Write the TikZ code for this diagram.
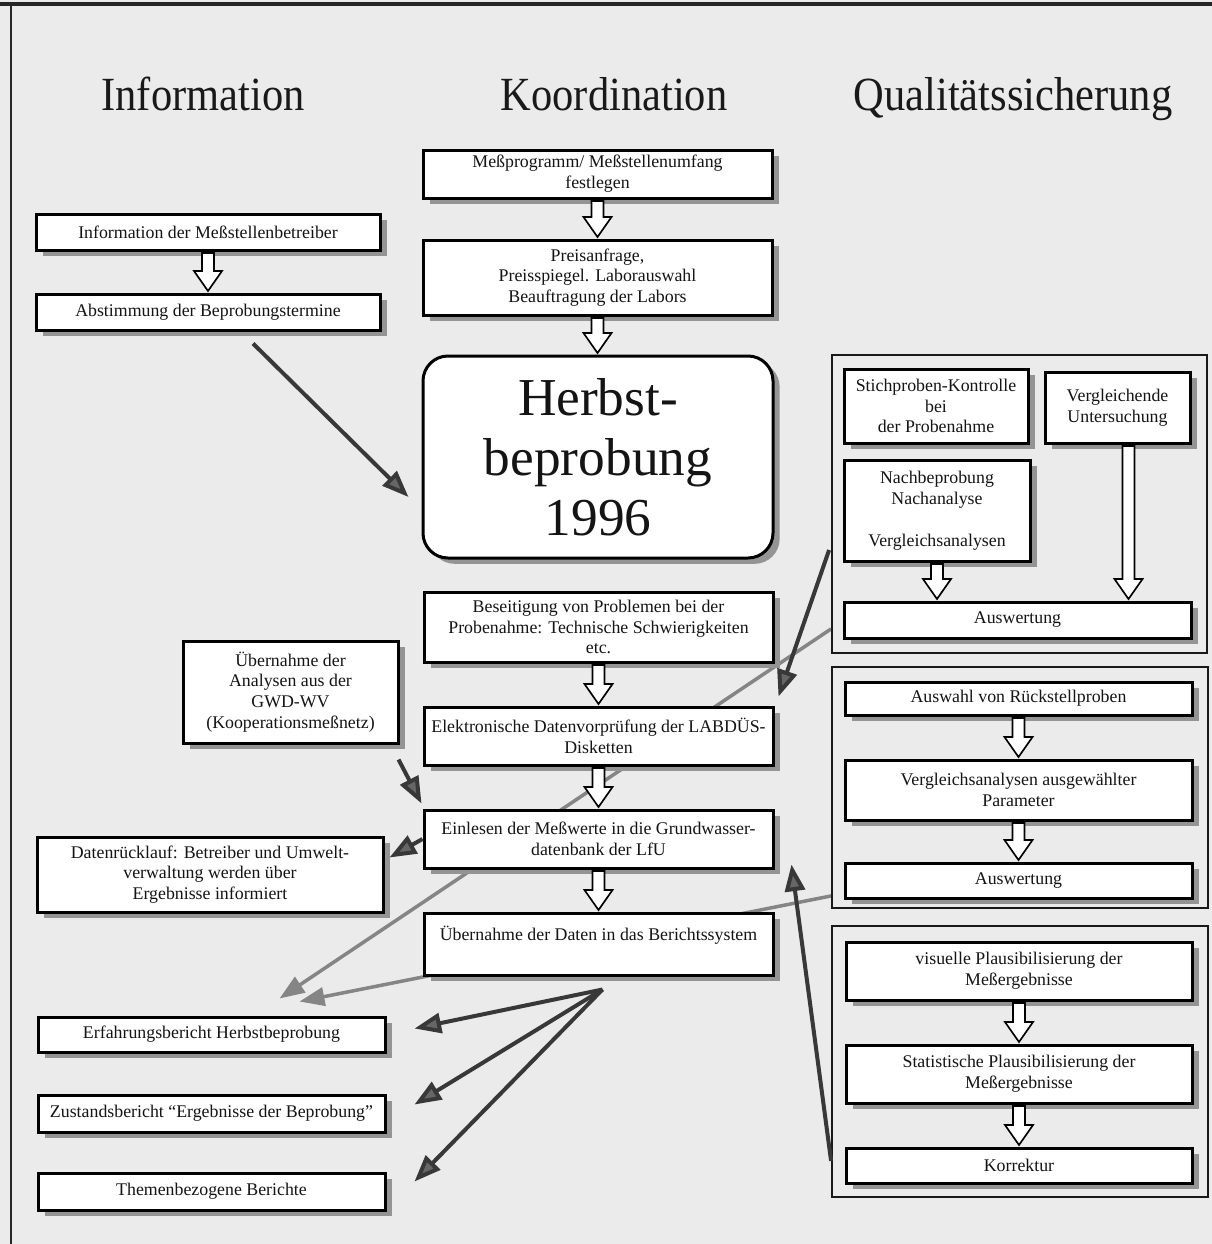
\documentclass[tikz,border=0pt]{standalone}
\usepackage{fontspec}
\setmainfont{Liberation Serif}
\usepackage{graphicx}
\usetikzlibrary{calc,shadows,arrows.meta}
\pgfdeclarelayer{bg}
\pgfdeclarelayer{lines}
\pgfsetlayers{bg,lines,main}
\newcommand\holarr[2]{%
  \draw[hol] let \p1=#1, \p2=#2 in
   (\x1-3.6pt,\y1-0.9pt) -- (\x1+3.6pt,\y1-0.9pt) -- (\x1+3.6pt,\y2+12.9pt) --
   (\x1+8.4pt,\y2+12.9pt) -- (\x1,\y2+0.9pt) -- (\x1-8.4pt,\y2+12.9pt) --
   (\x1-3.6pt,\y2+12.9pt) -- cycle;}
% box from pixel corners: [style]{name}{x1}{y1}{x2}{y2}{text}
\newcommand\bxn[7][bx]{%
  \node[#1, minimum width={(#5-#3)*0.6pt}, minimum height={(#6-#4)*0.6pt}]
    (#2) at ({(#3+#5)/2},{(#4+#6)/2}) {#7};}
\begin{document}
\begin{tikzpicture}[x=0.6pt,y=-0.6pt,
  bx/.style={draw=black, line width=1.8pt, fill=white, inner sep=0pt, align=center,
    text=black!92, font=\fontsize{10.7}{12.5}\selectfont,
    drop shadow={shadow xshift=4pt, shadow yshift=-3.5pt, fill=black!42, opacity=1}},
  bigbx/.style={bx, rounded corners=15pt, font=\fontsize{32}{36}\selectfont},
  frm/.style={draw=black!90, line width=1.1pt, inner sep=0pt},
  hol/.style={draw=black, line width=1pt, fill=white, line join=miter},
  darr/.style={draw=black!78, line width=2.4pt, -{Triangle[length=16pt,width=12pt,fill=black!60]}},
  garr/.style={draw=black!48, line width=2.1pt, -{Triangle[length=15pt,width=11pt,fill=black!48]}},
  ttl/.style={font=\fontsize{25.5}{30}\selectfont, anchor=base, inner sep=0pt, text=black!90}]

\useasboundingbox (0,0) rectangle (1212,1244);
\begin{pgfonlayer}{bg}
  \fill[black!8] (0,0) rectangle (1212,1244);
  \draw[line width=2pt, black!85] (0,4) -- (1212,4);
  \draw[line width=1.3pt, black!85] (11,6) -- (11,1244);
\end{pgfonlayer}

% titles
\node[ttl] (tinf) at (203,110) {\scalebox{1}[1.12]{Information}};
\node[ttl] (tkoo) at (614,110) {\scalebox{1}[1.12]{Koordination}};
\node[ttl] (tqs) at (1013,110) {\scalebox{1}[1.12]{Qualitätssicherung}};

% Koordination column
\bxn{k1}{423}{150}{772}{198}{Meßprogramm/ Meßstellenumfang\\festlegen}
\bxn{k2}{423}{240}{772}{315}{Preisanfrage,\\Preisspiegel. Laborauswahl\\Beauftragung der Labors}
\bxn[bigbx]{hb}{423}{356}{773}{558}{Herbst-\\beprobung\\1996}
\bxn{k4}{424}{592}{773}{662}{Beseitigung von Problemen bei der\\Probenahme: Technische Schwierigkeiten\\etc.}
\bxn{k5}{424}{707}{773}{765}{Elektronische Datenvorprüfung der LABDÜS-\\Disketten}
\bxn{k6}{424}{810}{773}{868}{Einlesen der Meßwerte in die Grundwasser-\\datenbank der LfU}
\bxn{k7}{424}{913}{773}{975}{Übernahme der Daten in das Berichtssystem\\\mbox{}}

% Information column
\bxn{i1}{36}{214}{380}{250}{Information der Meßstellenbetreiber}
\bxn{i2}{36}{294}{380}{330}{Abstimmung der Beprobungstermine}
\bxn{i3}{183}{641}{398}{743}{Übernahme der\\Analysen aus der\\GWD-WV\\(Kooperationsmeßnetz)}
\bxn{i4}{37}{837}{383}{912}{Datenrücklauf: Betreiber und Umwelt-\\verwaltung werden über\\Ergebnisse informiert}
\bxn{erf}{38}{1017}{385}{1052}{Erfahrungsbericht Herbstbeprobung}
\bxn{zus}{38}{1095}{385}{1132}{Zustandsbericht “Ergebnisse der Beprobung”}
\bxn{thm}{38}{1173}{385}{1210}{Themenbezogene Berichte}

% Qualitaetssicherung
\bxn[frm]{q1}{832}{355}{1207}{653}{}
\bxn{sk}{844}{369}{1028}{443}{Stichproben-Kontrolle\\bei\\der Probenahme}
\bxn{vu}{1045}{372}{1190}{443}{Vergleichende\\Untersuchung}
\bxn{nb}{844}{460}{1030}{561}{Nachbeprobung\\Nachanalyse\\\mbox{}\\Vergleichsanalysen}
\bxn{qa1}{844}{602}{1191}{638}{Auswertung}

\bxn[frm]{q2}{832}{667}{1208}{908}{}
\bxn{ar}{845}{682}{1192}{715}{Auswahl von Rückstellproben}
\bxn{va}{845}{760}{1192}{820}{Vergleichsanalysen ausgewählter\\Parameter}
\bxn{qa2}{845}{863}{1192}{898}{Auswertung}

\bxn[frm]{q3}{832}{926}{1208}{1197}{}
\bxn{vp}{846}{942}{1192}{1000}{visuelle Plausibilisierung der\\Meßergebnisse}
\bxn{sp}{846}{1045}{1192}{1103}{Statistische Plausibilisierung der\\Meßergebnisse}
\bxn{kr}{846}{1148}{1192}{1183}{Korrektur}

% hollow arrows
\holarr{(i1.south)}{(i2.north)}
\holarr{(k1.south)}{(k2.north)}
\holarr{(k2.south)}{(hb.north)}
\holarr{(k4.south)}{(k5.north)}
\holarr{(k5.south)}{(k6.north)}
\holarr{(k6.south)}{(k7.north)}
\holarr{(nb.south)}{(qa1.north)}
\holarr{($(vu.south)+(11,0)$)}{(qa1.north)}
\holarr{(ar.south)}{(va.north)}
\holarr{(va.south)}{(qa2.north)}
\holarr{(vp.south)}{(sp.north)}
\holarr{(sp.south)}{(kr.north)}

% gray arrows (behind boxes)
\begin{pgfonlayer}{lines}
  \draw[garr] ($(q1.south west)+(0,-25)$) -- ($(erf.north)+(68,-17)$);
  \draw[garr] ($(q2.south west)+(0,-13)$) -- ($(erf.north)+(88,-14)$);
\end{pgfonlayer}

% dark arrows
\draw[darr] ($(i2.south)+(45,12)$) -- ($(hb.west)+(-13,40)$);
\draw[darr] ($(i3.south east)+(-1,15)$) -- ($(k6.north west)+(-1,-5)$);
\draw[darr] (k6.west) -- ($(i4.east)+(5,-17)$);
\draw[darr] ($(q1.west)+(-2,46)$) -- ($(k5.north east)+(4,-9)$);
\draw[darr] ($(q3.south west)+(0,-37)$) -- ($(k6.south east)+(17,-5)$);
\draw[darr] ($(k7.south)+(4,13)$) -- ($(erf.east)+(28,-6)$);
\draw[darr] ($(k7.south)+(4,13)$) -- ($(zus.east)+(28,-9)$);
\draw[darr] ($(k7.south)+(4,13)$) -- ($(thm.east)+(28,-10)$);
\end{tikzpicture}
\end{document}
